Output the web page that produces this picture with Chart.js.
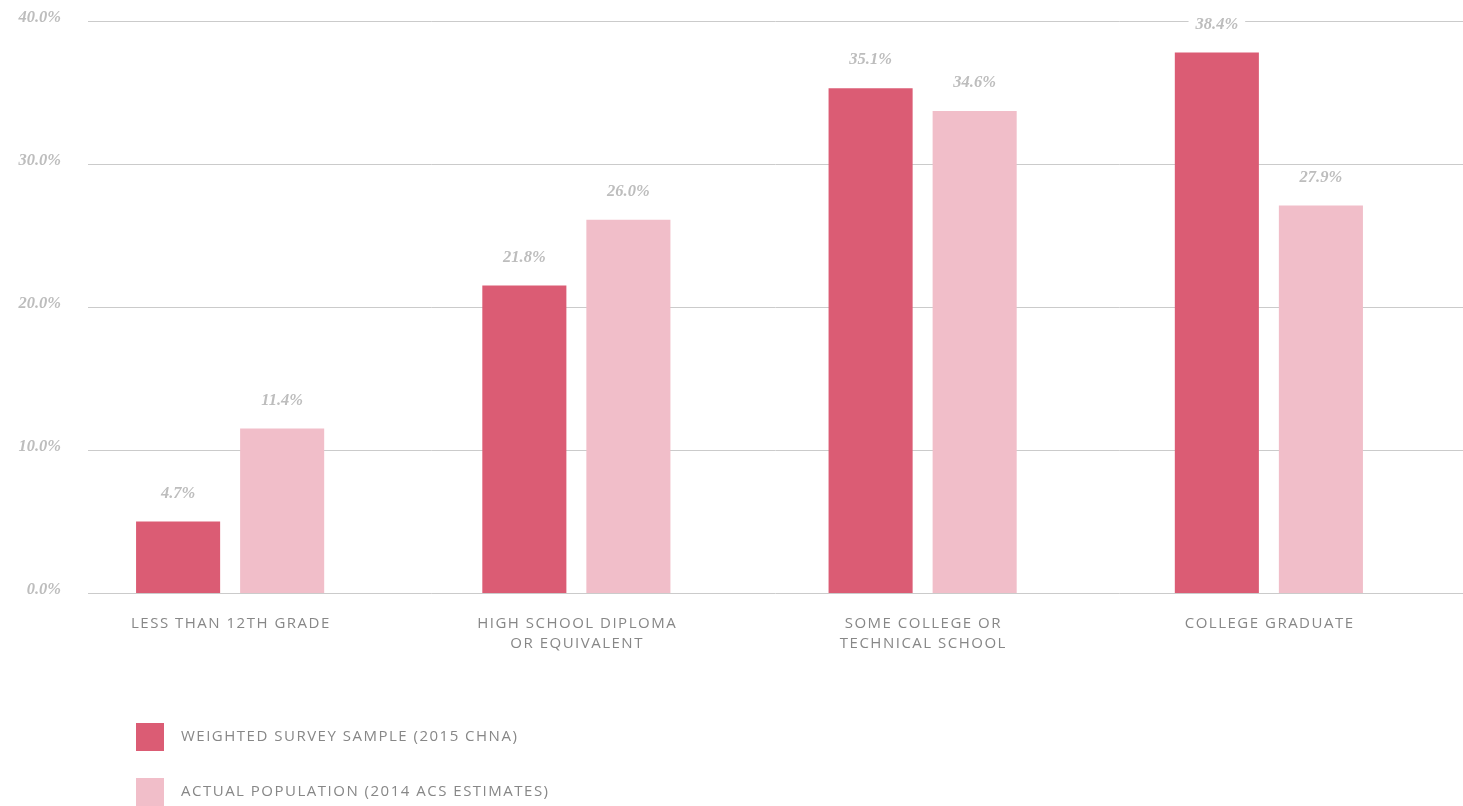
<!DOCTYPE html>
<html>
<head>
<meta charset="utf-8">
<script src="https://cdn.jsdelivr.net/npm/chart.js@4/dist/chart.umd.min.js"></script>
<style>
  html, body { margin: 0; padding: 0; background: #ffffff; }
  #wrap { position: relative; width: 1463px; height: 806px; }
</style>
</head>
<body>
<div id="wrap"><canvas id="c" width="1463" height="806"></canvas></div>
<script>
// ---- Data ----
const categories = [
  ["LESS THAN 12TH GRADE"],
  ["HIGH SCHOOL DIPLOMA", "OR EQUIVALENT"],
  ["SOME COLLEGE OR", "TECHNICAL SCHOOL"],
  ["COLLEGE GRADUATE"]
];
const seriesNames = ["WEIGHTED SURVEY SAMPLE (2015 CHNA)", "ACTUAL POPULATION (2014 ACS ESTIMATES)"];
// bar heights as drawn in the picture
const surveyValues = [5.0, 21.5, 35.3, 37.8];
const populationValues = [11.5, 26.1, 33.7, 27.1];
// value labels as printed in the picture
const surveyLabels = ["4.7%", "21.8%", "35.1%", "38.4%"];
const populationLabels = ["11.4%", "26.0%", "34.6%", "27.9%"];
const yTicks = [0, 10, 20, 30, 40];
const yTickLabels = ["0.0%", "10.0%", "20.0%", "30.0%", "40.0%"];

const RED = "#DB5C74";
const PINK = "#F1BEC9";
const GRID = "#CBCBCB";
const VALUE_GREY = "#BDBDBD";
const TEXT_GREY = "#878787";
const SERIF = "'Liberation Serif', 'DejaVu Serif', serif";
const SANS = "'Open Sans', 'Noto Sans', sans-serif";
const SPACING = 1.5;

const chartPlugin = {
  id: 'customDraw',
  beforeDatasetsDraw(chart) {
    const ctx = chart.ctx;
    const y = chart.scales.y;
    ctx.save();
    yTicks.forEach((t, i) => {
      const py = Math.round(y.getPixelForValue(t)) + 0.5;
      ctx.strokeStyle = GRID;
      ctx.lineWidth = 1;
      ctx.beginPath();
      ctx.moveTo(88, py);
      ctx.lineTo(chart.width, py);
      ctx.stroke();
      ctx.fillStyle = VALUE_GREY;
      ctx.font = "italic bold 16.5px " + SERIF;
      ctx.textAlign = "right";
      ctx.textBaseline = "middle";
      ctx.fillText(yTickLabels[i], 61, py - 4);
    });
    ctx.restore();
  },
  afterDatasetsDraw(chart) {
    const ctx = chart.ctx;
    const x = chart.scales.x;
    ctx.save();
    const labelSets = [surveyLabels, populationLabels];
    chart.data.datasets.forEach((ds, di) => {
      const meta = chart.getDatasetMeta(di);
      meta.data.forEach((bar, i) => {
        const txt = labelSets[di][i];
        ctx.font = "italic bold 16.5px " + SERIF;
        const w = ctx.measureText(txt).width;
        const cy = bar.y - 28;
        ctx.fillStyle = "#ffffff";
        ctx.fillRect(bar.x - w / 2 - 7, cy - 6, w + 14, 12);
        ctx.fillStyle = VALUE_GREY;
        ctx.textAlign = "center";
        ctx.textBaseline = "middle";
        ctx.fillText(txt, bar.x, cy);
      });
    });
    ctx.fillStyle = TEXT_GREY;
    ctx.font = "15px " + SANS;
    ctx.textBaseline = "middle";
    ctx.textAlign = "left";
    try { ctx.letterSpacing = SPACING + "px"; } catch (e) {}
    categories.forEach((lines, i) => {
      const cx = x.getPixelForValue(i);
      lines.forEach((ln, li) => {
        const w = ctx.measureText(ln).width - SPACING;
        ctx.fillText(ln, cx - w / 2, 624 + li * 20);
      });
    });
    const legendY = [737, 792];
    chart.data.datasets.forEach((ds, di) => {
      ctx.fillStyle = ds.backgroundColor;
      ctx.fillRect(136, legendY[di] - 14, 28, 28);
      ctx.fillStyle = TEXT_GREY;
      ctx.fillText(ds.label, 181, legendY[di]);
    });
    ctx.restore();
  }
};

new Chart(document.getElementById('c'), {
  type: 'bar',
  data: {
    labels: categories,
    datasets: [
      { label: seriesNames[0], data: surveyValues, backgroundColor: RED, borderWidth: 0,
        categoryPercentage: 0.601, barPercentage: 0.808 },
      { label: seriesNames[1], data: populationValues, backgroundColor: PINK, borderWidth: 0,
        categoryPercentage: 0.601, barPercentage: 0.808 }
    ]
  },
  options: {
    responsive: false,
    animation: false,
    layout: { padding: { left: 57, right: 21, top: 21, bottom: 213 } },
    plugins: { legend: { display: false }, tooltip: { enabled: false } },
    scales: {
      x: { display: false, offset: true },
      y: { display: false, min: 0, max: 40 }
    }
  },
  plugins: [chartPlugin]
});
</script>
</body>
</html>
